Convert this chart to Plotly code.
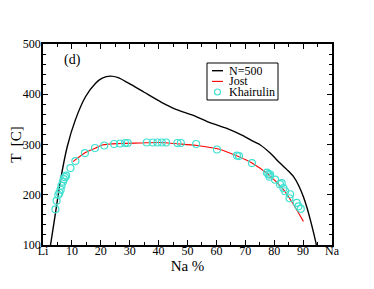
import plotly.graph_objects as go

# N=500 simulation curve (Na %, T [C])
n500_x = [2.6, 4.3, 6.1, 8.4, 11.2, 14.7, 18.2, 20.5, 23.3, 26.0, 29.6, 35.0, 41.0, 46.0, 52.0, 58.0, 63.6, 69.0, 72.8, 75.2, 78.6, 82.0, 84.4, 86.7, 88.5, 90.1, 91.3, 92.5, 93.6, 94.6]
n500_t = [100, 163, 230, 296, 349, 395, 422, 432, 436, 433, 422, 404, 384, 370, 358, 343, 332, 318, 306, 299, 283, 263, 250, 236, 218, 196, 175, 150, 125, 100]

# Jost curve
jost_x = [10.4, 14.7, 18.2, 20.5, 27.0, 33.6, 40.0, 47.5, 53.2, 60.7, 67.6, 72.3, 78.0, 83.2, 86.5, 90.1]
jost_t = [266, 284, 293, 299, 302, 303, 304, 301, 298, 291, 276, 263, 240, 210, 182, 147]

# Khairulin measurements
kh_x = [4.3, 4.7, 5.3, 5.7, 6.1, 6.4, 6.9, 7.2, 7.6, 8.0, 9.5, 11.2, 14.5, 18.0, 21.2, 24.6, 26.7, 28.4, 29.3,
        35.9, 38.0, 39.6, 41.1, 42.6, 46.5, 47.7, 53.0, 60.2, 67.1, 67.8, 72.3,
        77.5, 78.0, 78.4, 78.6, 80.3, 82.0, 82.6, 83.2, 83.8, 85.5, 85.3, 87.8, 88.4, 89.2]
kh_t = [171, 188, 200, 204, 210, 218, 226, 231, 235, 238, 253, 267, 283, 293, 298, 301, 302, 303, 303,
        304, 304, 304, 304, 304, 303, 303, 301, 290, 278, 277, 263,
        244, 241, 236, 240, 230, 221, 223, 213, 207, 201, 193, 184, 177, 172]

x_tickvals = [0, 10, 20, 30, 40, 50, 60, 70, 80, 90, 100]
x_ticktext = ["Li", "10", "20", "30", "40", "50", "60", "70", "80", "90", "Na"]
y_tickvals = [100, 200, 300, 400, 500]

legend_names = ["N=500", "Jost", "Khairulin"]

black = "#000000"
red = "#ff0000"
cyan = "#40e0d0"
font = "Liberation Serif, Times New Roman, serif"

# page body has an 8px margin: figure placed so plot area spans x 43..332, y 44..245 of the window
OFF = 8
L, T = 43 - OFF, 44 - OFF
PW, PH = 289, 201
W, H = 374 - OFF, 289 - OFF


def px_x(x):
    return (x - 43) / PW


def px_y(y):
    return (245 - y) / PH


fig = go.Figure()
fig.add_trace(go.Scatter(x=n500_x, y=n500_t, mode="lines", name=legend_names[0],
                         line=dict(color=black, width=1.4, shape="spline", smoothing=0.8),
                         showlegend=False))
fig.add_trace(go.Scatter(x=jost_x, y=jost_t, mode="lines", name=legend_names[1],
                         line=dict(color=red, width=1.1, shape="spline", smoothing=0.8),
                         showlegend=False))
fig.add_trace(go.Scatter(x=kh_x, y=kh_t, mode="markers", name=legend_names[2],
                         marker=dict(symbol="circle-open", size=7, color=cyan, line=dict(width=1.2, color=cyan)),
                         showlegend=False))

axis_common = dict(showline=True, linecolor="black", linewidth=1.5, mirror="allticks",
                   ticks="inside", ticklen=5, tickwidth=1, tickcolor="black",
                   showgrid=False, zeroline=False,
                   tickfont=dict(family=font, size=12, color="black"))

fig.update_xaxes(range=[0, 100], tickvals=x_tickvals, ticktext=x_ticktext,
                 ticklabelstandoff=-6,
                 minor=dict(ticks="inside", dtick=5, tick0=0, ticklen=3, tickwidth=1, tickcolor="black"),
                 title=dict(text="Na %", font=dict(family=font, size=15, color="black"), standoff=0),
                 **axis_common)
fig.update_yaxes(range=[100, 500], tickvals=y_tickvals,
                 ticklabelstandoff=-2,
                 minor=dict(ticks="inside", dtick=20, tick0=100, ticklen=3, tickwidth=1, tickcolor="black"),
                 title=dict(text="T  [C]", font=dict(family=font, size=15, color="black"), standoff=2),
                 **axis_common)

# Compact legend as in the reference
fig.add_shape(type="rect", xref="paper", yref="paper",
              x0=px_x(207), x1=px_x(278), y0=px_y(100), y1=px_y(63),
              line=dict(color="black", width=1), fillcolor="white", layer="above")
legend_rows_y = [70.7, 81.4, 92.0]
fig.add_shape(type="line", xref="paper", yref="paper",
              x0=px_x(212), x1=px_x(223), y0=px_y(legend_rows_y[0]), y1=px_y(legend_rows_y[0]),
              line=dict(color=black, width=1.4), layer="above")
fig.add_shape(type="line", xref="paper", yref="paper",
              x0=px_x(212), x1=px_x(223), y0=px_y(legend_rows_y[1]), y1=px_y(legend_rows_y[1]),
              line=dict(color=red, width=1.1), layer="above")
fig.add_shape(type="circle", xref="paper", yref="paper",
              x0=px_x(214.5), x1=px_x(220.5),
              y0=px_y(legend_rows_y[2] + 3), y1=px_y(legend_rows_y[2] - 3),
              line=dict(color=cyan, width=1.2), layer="above")
for name, yy in zip(legend_names, legend_rows_y):
    fig.add_annotation(xref="paper", yref="paper", x=px_x(228), y=px_y(yy),
                       text=name, showarrow=False, xanchor="left", yanchor="middle",
                       height=10, borderpad=0, valign="middle",
                       font=dict(family=font, size=12, color="black"))

fig.add_annotation(xref="paper", yref="paper", x=px_x(72), y=px_y(60),
                   text="(d)", showarrow=False, xanchor="center", yanchor="middle",
                   font=dict(family=font, size=14, color="black"))

fig.update_layout(width=W, height=H,
                  margin=dict(l=L, r=W - L - PW, t=T, b=H - T - PH, autoexpand=False),
                  paper_bgcolor="white", plot_bgcolor="white",
                  font=dict(family=font, color="black"))

fig.write_html("out.html")
